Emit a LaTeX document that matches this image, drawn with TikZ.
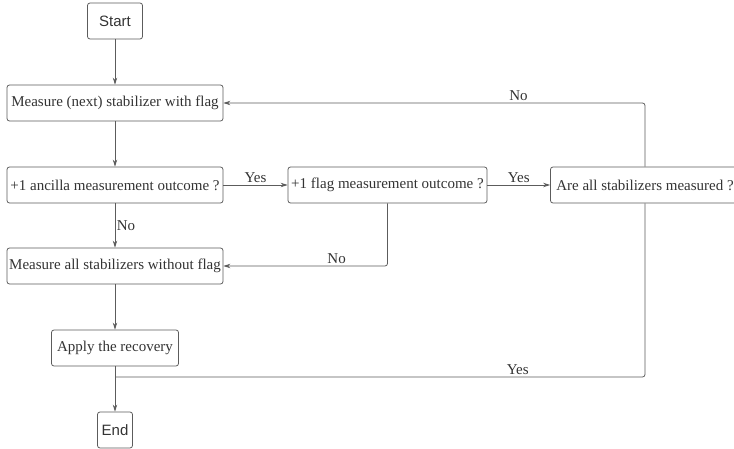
\documentclass[tikz,border=0pt]{standalone}
\usepackage{fontspec}
\setmainfont{Liberation Serif}
\newfontfamily\termfont{Liberation Sans}
\usetikzlibrary{arrows.meta}
\definecolor{linegray}{HTML}{5C5C5C}
\definecolor{textgray}{HTML}{333333}
\tikzset{
  box/.style={draw=linegray, line width=0.8pt, rounded corners=2.5pt, minimum height=36pt,
    inner sep=2pt, text=textgray, font=\fontsize{15}{17}\selectfont},
  term/.style={box, font=\termfont\fontsize{15}{17}\selectfont},
  flow/.style={draw=linegray, line width=0.8pt, -{Stealth[length=7pt,width=4.5pt]}},
  plain/.style={draw=linegray, line width=0.8pt, rounded corners=2.5pt},
  lbl/.style={text=textgray, font=\fontsize{15}{17}\selectfont, inner sep=1.5pt}
}
\begin{document}
\begin{tikzpicture}[x=1pt, y=-1pt]
  \useasboundingbox (0,0) rectangle (734,449);
  \node[term, minimum width=55pt] (start) at (115,21) {Start};
  \node[box, minimum width=216pt] (meas) at (115,103) {Measure (next) stabilizer with flag};
  \node[box, minimum width=216pt] (ancilla) at (115,185) {+1 ancilla measurement outcome ?};
  \node[box, minimum width=199pt] (flagq) at (387.5,185) {+1 flag measurement outcome ?};
  \node[box, minimum width=189pt] (allq) at (645,185) {Are all stabilizers measured ?};
  \node[box, minimum width=216pt] (noflag) at (115,266) {Measure all stabilizers without flag};
  \node[box, minimum width=127pt] (recov) at (115,348) {Apply the recovery};
  \node[term, minimum width=35pt] (finish) at (115,430) {End};
  \coordinate (join) at (115,377);

  \draw[flow] (start) -- (meas);
  \draw[flow] (meas) -- (ancilla);
  \draw[flow] (ancilla) -- node[lbl, above] {Yes} (flagq);
  \draw[flow] (flagq) -- node[lbl, above] {Yes} (allq);
  \draw[flow] (ancilla) -- node[lbl, right] {No} (noflag);
  \draw[flow, rounded corners=2.5pt] (flagq.south) |- node[lbl, above, pos=0.655] {No} (noflag.east);
  \draw[flow, rounded corners=2.5pt] (allq.north) |- node[lbl, above, pos=0.65] {No} (meas.east);
  \draw[flow] (noflag) -- (recov);
  \draw[flow] (recov) -- (finish);
  \draw[plain] (allq.south) |- node[lbl, above, pos=0.62] {Yes} (join);
\end{tikzpicture}
\end{document}
